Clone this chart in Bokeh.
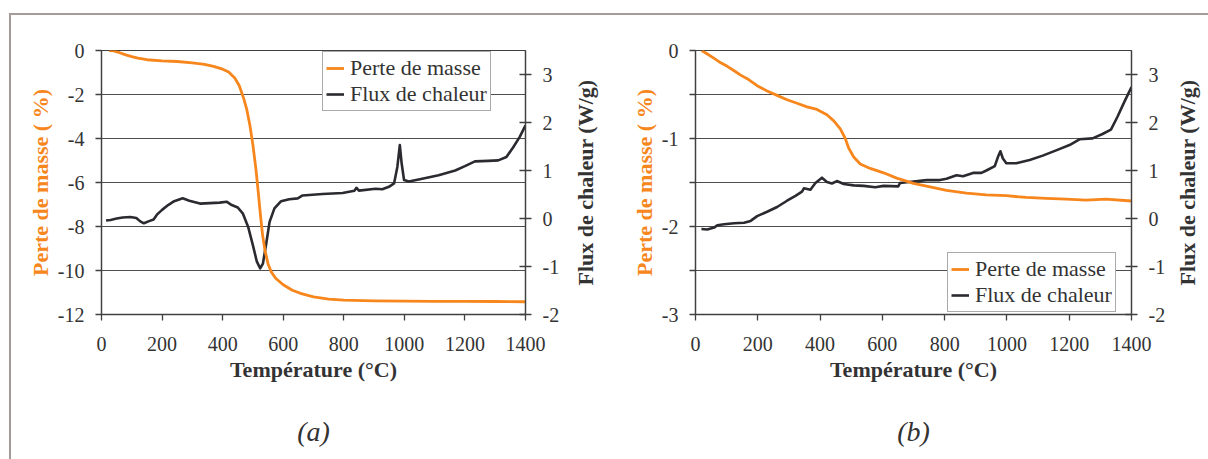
from bokeh.plotting import figure
from bokeh.models import (Range1d, LinearAxis, FixedTicker, Legend, LegendItem,
                          CustomJSTickFormatter)
from bokeh.layouts import row
from bokeh.embed import file_html
from bokeh.resources import INLINE

# ---------------- data ----------------
# Panel (a)
temp_a_mass = [25, 40, 60, 80, 100, 120, 150, 200, 250, 300, 340, 370, 400, 420, 440,
               455, 470, 480, 490, 500, 510, 518, 525, 532, 540, 550, 560, 575, 600,
               630, 660, 700, 750, 800, 900, 1000, 1100, 1200, 1300, 1400]
mass_a = [0.0, -0.02, -0.1, -0.2, -0.28, -0.35, -0.42, -0.47, -0.5, -0.56, -0.63, -0.72,
          -0.85, -0.98, -1.25, -1.6, -2.2, -2.7, -3.4, -4.3, -5.4, -6.5, -7.5, -8.4, -9.1,
          -9.7, -10.05, -10.35, -10.65, -10.9, -11.05, -11.2, -11.3, -11.35, -11.38,
          -11.39, -11.4, -11.4, -11.41, -11.42]
temp_a_flux = [15, 30, 50, 70, 95, 115, 128, 140, 155, 172, 183, 200, 220, 240, 268, 290,
               325, 358, 390, 413, 430, 450, 467, 484, 500, 513, 524, 533, 544, 555, 571,
               593, 620, 648, 664, 730, 796, 835, 842, 850, 905, 927, 949, 966, 977, 985,
               991, 999, 1015, 1059, 1113, 1168, 1200, 1233, 1277, 1310, 1337, 1359, 1381,
               1400]
flux_a = [-0.04, -0.03, 0.0, 0.02, 0.03, 0.01, -0.06, -0.1, -0.06, -0.02, 0.08, 0.18, 0.28,
          0.36, 0.42, 0.37, 0.31, 0.32, 0.33, 0.35, 0.28, 0.23, 0.1, -0.17, -0.56, -0.9,
          -1.04, -0.94, -0.52, -0.07, 0.21, 0.36, 0.4, 0.42, 0.48, 0.51, 0.53, 0.58, 0.64,
          0.58, 0.62, 0.61, 0.66, 0.73, 1.08, 1.53, 1.15, 0.8, 0.77, 0.83, 0.9, 1.0, 1.09,
          1.19, 1.2, 1.21, 1.28, 1.48, 1.7, 1.94]

# Panel (b)
temp_b_mass = [20, 38, 60, 81, 102, 124, 145, 166, 198, 230, 262, 294, 326, 358, 390, 422,
               444, 465, 481, 492, 508, 529, 561, 604, 646, 700, 753, 806, 870, 934, 998,
               1062, 1126, 1190, 1254, 1318, 1400]
mass_b = [0.0, -0.04, -0.09, -0.14, -0.18, -0.23, -0.28, -0.32, -0.4, -0.46, -0.51, -0.56,
          -0.6, -0.64, -0.67, -0.73, -0.8, -0.89, -1.0, -1.11, -1.21, -1.29, -1.34, -1.39,
          -1.45, -1.51, -1.55, -1.59, -1.62, -1.64, -1.65, -1.67, -1.68, -1.69, -1.7,
          -1.69, -1.71]
temp_b_flux = [19, 38, 60, 70, 92, 124, 156, 177, 198, 230, 262, 294, 321, 342, 348, 369,
               385, 406, 422, 438, 454, 476, 508, 540, 577, 604, 651, 657, 700, 742, 785,
               806, 838, 859, 891, 918, 934, 961, 971, 979, 987, 998, 1030, 1073, 1115, 1158,
               1201, 1233, 1275, 1307, 1334, 1355, 1377, 1400]
flux_b = [-0.22, -0.23, -0.19, -0.14, -0.12, -0.1, -0.09, -0.05, 0.05, 0.14, 0.24, 0.37,
          0.47, 0.56, 0.63, 0.6, 0.74, 0.85, 0.76, 0.73, 0.78, 0.72, 0.69, 0.68, 0.65, 0.68,
          0.67, 0.74, 0.77, 0.8, 0.8, 0.83, 0.9, 0.88, 0.95, 0.95, 1.0, 1.09, 1.28, 1.4,
          1.25, 1.15, 1.15, 1.22, 1.31, 1.42, 1.53, 1.65, 1.67, 1.76, 1.85, 2.12, 2.43, 2.74]

mass_ticks_a = [-12, -10, -8, -6, -4, -2, 0]
mass_ticks_b = [-3, -2.5, -2, -1.5, -1, -0.5, 0]
flux_ticks = [-2, -1, 0, 1, 2, 3]
temp_ticks = [0, 200, 400, 600, 800, 1000, 1200, 1400]

label_mass = "Perte de masse"
label_flux = "Flux de chaleur"
title_x = "Température (°C)"
title_mass = "Perte de masse ( %)"
title_flux = "Flux de chaleur (W/g)"
tag_a = "(a)"
tag_b = "(b)"

# ---------------- styles ----------------
SERIF = "Liberation Serif"
ORANGE = "#F7861C"
DARK = "#2A2A30"
TXT = "#333333"
AXC = "#404040"
GRID = "#4d4d4d"
BORDER = "#A59C99"

INT_FMT = "return tick.toFixed(0);"
HALF_FMT = "return Number.isInteger(tick) ? tick.toFixed(0) : '';"

FIG_H = 444
MB_TOP = 35
MB_BOTTOM = 145


def style_axis(ax, ticks, label, label_color, fmt=INT_FMT):
    ax.ticker = FixedTicker(ticks=ticks)
    ax.formatter = CustomJSTickFormatter(code=fmt)
    ax.axis_label = label
    ax.axis_label_text_font = SERIF
    ax.axis_label_text_font_style = "bold"
    ax.axis_label_text_font_size = "22px"
    ax.axis_label_text_color = label_color
    ax.major_label_text_font = SERIF
    ax.major_label_text_font_size = "20px"
    ax.major_label_text_color = TXT
    ax.axis_line_color = AXC
    ax.axis_line_width = 1.3
    ax.major_tick_line_color = AXC
    ax.major_tick_line_width = 1.3
    ax.minor_tick_line_color = None
    ax.major_tick_in = 0
    ax.major_tick_out = 6


def text_axis(label, standoff, size, style, color, **kw):
    """An axis without line or ticks, used only to place a text label."""
    ax = LinearAxis(ticker=FixedTicker(ticks=[]), axis_line_color=None,
                    major_tick_line_color=None, minor_tick_line_color=None,
                    major_tick_in=0, major_tick_out=0, minor_tick_in=0,
                    minor_tick_out=0, major_label_text_font_size="0px",
                    axis_label=label, axis_label_standoff=standoff,
                    axis_label_text_font=SERIF, axis_label_text_font_size=size,
                    axis_label_text_font_style=style, axis_label_text_color=color,
                    **kw)
    return ax


def panel(tm, m, tf, f, mrange, mticks, fmt, loc, tag, left, right, width):
    p = figure(width=width, height=FIG_H, x_range=Range1d(0, 1400),
               y_range=Range1d(*mrange), output_backend="svg",
               toolbar_location=None, min_border_left=left,
               min_border_right=right, min_border_top=MB_TOP,
               min_border_bottom=MB_BOTTOM)
    p.extra_y_ranges = {"flux": Range1d(-2, 3.5)}
    p.outline_line_color = AXC
    p.outline_line_width = 1.2
    p.background_fill_color = "white"
    p.border_fill_color = "white"

    xa = p.xaxis[0]
    style_axis(xa, temp_ticks, title_x, TXT)
    xa.major_label_standoff = 16
    xa.axis_label_standoff = 3

    ya = p.yaxis[0]
    style_axis(ya, mticks, title_mass, ORANGE, fmt)
    ya.major_label_standoff = 11
    ya.axis_label_standoff = 2

    ra = LinearAxis(y_range_name="flux")
    style_axis(ra, flux_ticks, None, TXT)
    ra.major_tick_in = 6
    ra.major_label_standoff = 11
    p.add_layout(ra, "right")

    # panel tag "(a)" / "(b)" under the x-axis title
    p.add_layout(text_axis(tag, 31, "28px", "italic", TXT), "below")

    p.xgrid.visible = False
    p.ygrid.ticker = FixedTicker(ticks=mticks)
    p.ygrid.grid_line_color = GRID
    p.ygrid.grid_line_width = 1

    r_flux = p.line(tf, f, y_range_name="flux", line_color=DARK, line_width=2.6,
                    line_join="round")
    r_mass = p.line(tm, m, line_color=ORANGE, line_width=2.8, line_join="round")

    legend = Legend(items=[LegendItem(label=label_mass, renderers=[r_mass]),
                           LegendItem(label=label_flux, renderers=[r_flux])],
                    location=loc, margin=0, padding=3, spacing=0,
                    glyph_width=18, glyph_height=22, label_height=22,
                    label_standoff=6,
                    label_text_font=SERIF, label_text_font_size="22px",
                    label_text_color=TXT, border_line_color="#555555",
                    border_line_width=1.2, background_fill_color="white",
                    background_fill_alpha=1.0)
    p.add_layout(legend)
    return p


p1 = panel(temp_a_mass, mass_a, temp_a_flux, flux_a, (-12, 0), mass_ticks_a, INT_FMT,
           (221, 203), tag_a, 90, 35, 551)
p2 = panel(temp_b_mass, mass_b, temp_b_flux, flux_b, (-3, 0), mass_ticks_b, HALF_FMT,
           (252, 2), tag_b, 133, 35, 606)
# right-hand axis title of panel (a), read bottom-to-top like the reference
p2.add_layout(text_axis(title_flux, 31, "22px", "bold", TXT), "left")

# narrow strip holding the right-hand axis title of panel (b)
p3 = figure(width=40, height=FIG_H, x_range=Range1d(0, 1), y_range=Range1d(0, 1),
            x_axis_type=None, y_axis_type=None, output_backend="svg",
            toolbar_location=None, min_border_left=36, min_border_right=0,
            min_border_top=MB_TOP, min_border_bottom=MB_BOTTOM)
p3.outline_line_color = None
p3.background_fill_color = "white"
p3.border_fill_color = "white"
p3.grid.visible = False
p3.add_layout(text_axis(title_flux, 5, "22px", "bold", TXT), "left")

layout = row(p1, p2, p3, spacing=0,
             styles={"margin-top": "13px", "margin-left": "9px",
                     "border-top": f"2px solid {BORDER}",
                     "border-left": f"2px solid {BORDER}"})
open("out.html", "w").write(file_html(layout, INLINE))
